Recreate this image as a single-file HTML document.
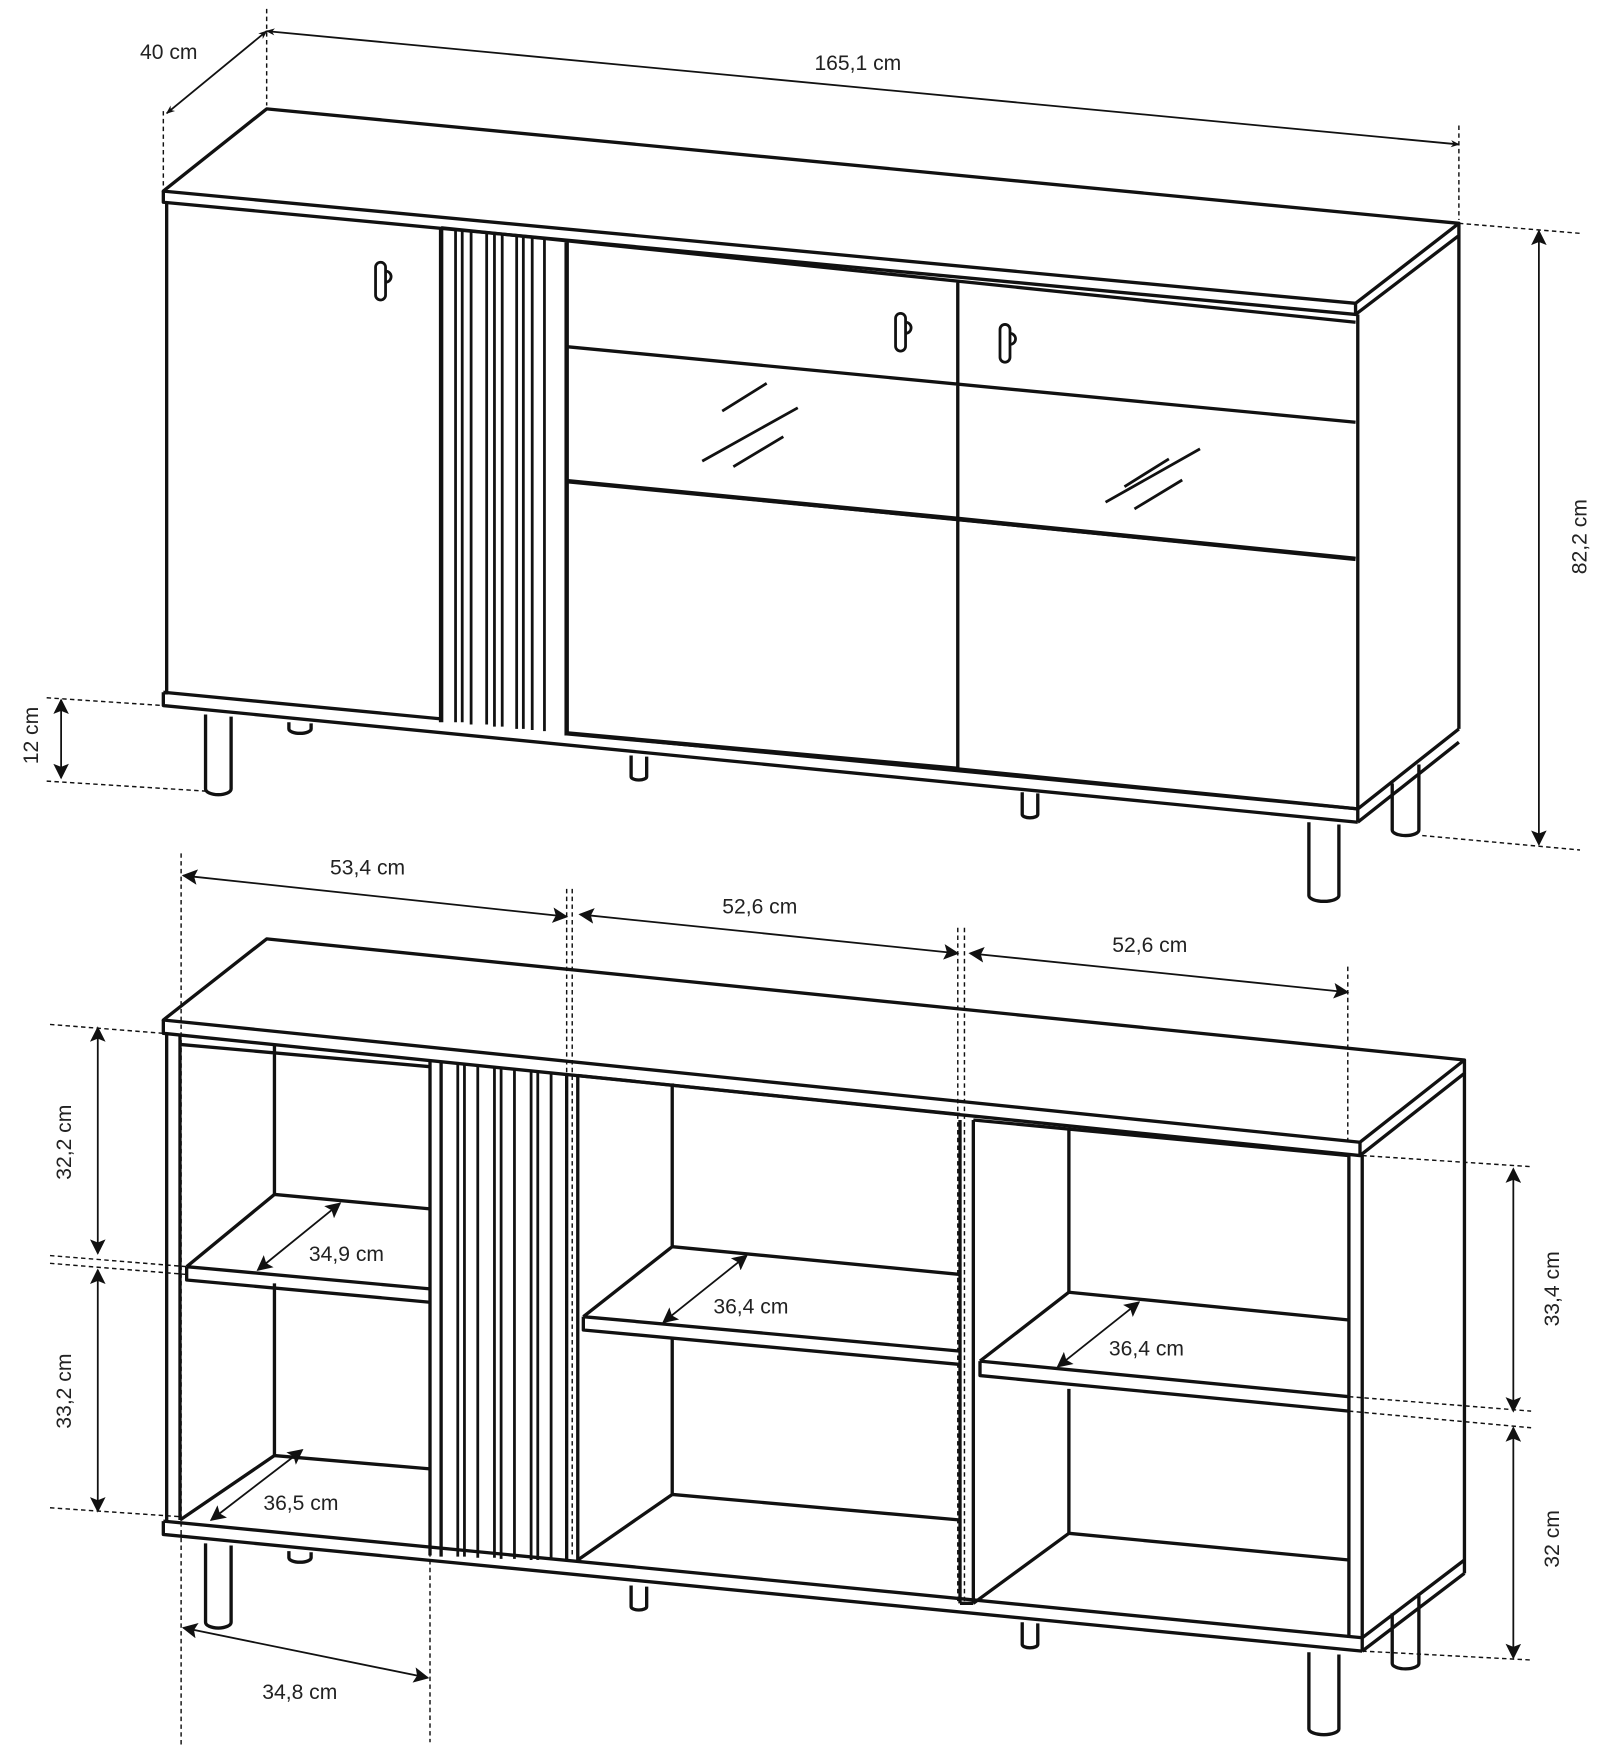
<!DOCTYPE html>
<html><head><meta charset="utf-8"><style>
html,body{margin:0;padding:0;background:#fff;}
svg{display:block;}
text{font-family:"Liberation Sans",Arial,sans-serif;font-size:19px;fill:#222;}
</style></head><body>
<svg width="1600" height="1750" viewBox="0 0 1440 1575" xmlns="http://www.w3.org/2000/svg">
<defs>
<marker id="a" viewBox="0 0 10 10" refX="9" refY="5" markerWidth="8" markerHeight="8" orient="auto-start-reverse" markerUnits="userSpaceOnUse"><path d="M0,1 L10,5 L0,9 L3,5 Z" fill="#111"/></marker>
<marker id="b" viewBox="0 0 10 10" refX="9" refY="5" markerWidth="18" markerHeight="14" orient="auto-start-reverse" markerUnits="userSpaceOnUse"><path d="M0,0 L10,5 L0,10 L2,5 Z" fill="#111"/></marker>
</defs>
<g fill="none" stroke="#111" stroke-width="3" stroke-linejoin="round">
<!-- TOP CABINET -->
<path d="M147,172 L240,98 L1313,201 L1220,273 Z" fill="#fff"/>
<path d="M147,172 L147,182 L1220,283 L1220,273 M1220,283 L1313,212 L1313,201"/>
<path d="M150,182 L150,625 M1222,283 L1222,740 M1313,212 L1313,656"/>
<path d="M1222,728 L1313,656 M1222,740 L1313,668"/>
<path d="M147,623 L147,635 L1222,740 M147,623 L397,647"/>
<path d="M510,660 L1222,728"/>
<path d="M397,205 L397,650 M510,218 L510,662" stroke-width="4"/>
<g stroke-width="2.5">
<path d="M410,207 V650 M416,208 V650 M424,209 V652 M438,210 V652 M445,211 V654 M452,212 V654 M465,213 V656 M471,214 V656 M479,214 V657 M490,215 V658"/>
</g>
<path d="M397,205 L1220,290 M862,252 L862,692 M510,312 L1220,380 M510,433 L1220,503" />
<path d="M510,433 L862,467" stroke-width="4"/>
<path d="M862,467 L1220,503" stroke-width="4"/>
<path d="M862,692 L1222,728"/>
<path d="M510,660 L862,692" stroke-width="4"/>
<g stroke-width="2.5">
<path d="M650,370 L690,345 M632,415 L718,367 M660,420 L705,393"/>
<path d="M1012,438 L1052,413 M995,452 L1080,404 M1021,458 L1064,432"/>
</g>
<g stroke-width="2.5">
<rect x="338" y="236" width="9" height="34" rx="4.5"/><path d="M347,244 a5,5 0 0 1 0,10"/>
<rect x="806" y="282" width="9" height="34" rx="4.5"/><path d="M815,290 a5,5 0 0 1 0,10"/>
<rect x="900" y="292" width="9" height="34" rx="4.5"/><path d="M909,300 a5,5 0 0 1 0,10"/>
</g>
<!-- legs top -->
<path d="M185,643 V710 a11,5 0 0 0 23,0 V645"/>
<path d="M260,650 V656 a10,4 0 0 0 20,0 V651"/>
<path d="M568,680 V699 a7,3 0 0 0 14,0 V681"/>
<path d="M920,713 V733 a7,3 0 0 0 14,0 V714"/>
<path d="M1178,740 V806 a13,5 0 0 0 27,0 V742"/>
<path d="M1253,705 V747 a12,5 0 0 0 24,0 V688"/>

<!-- BOTTOM CABINET -->
<path d="M147,918 L240,845 L1318,954 L1224,1028 Z" fill="#fff"/>
<path d="M147,918 L147,930 L1224,1040 L1224,1028 M1224,1040 L1318,966 L1318,954"/>
<path d="M150,930 V1368 M162,932 V1368 M1214,1040 V1474 M1226,1040 V1486 M1318,966 V1416"/>
<path d="M1226,1474 L1318,1404 M1226,1486 L1318,1416"/>
<path d="M147,1369 L147,1381 L1226,1486 M147,1369 L1226,1474"/>
<path d="M162,940 L387,960 M247,940 V1075 M247,1155 V1310"/>
<path d="M168,1140 L247,1075 L387,1088 M168,1140 V1152 L387,1172 M168,1140 L387,1160"/>
<path d="M162,1368 L247,1310 L387,1322"/>
<path d="M387,955 V1400 M397,956 V1401 M520,968 V1405 M510,967 V1404" stroke-width="3"/>
<g stroke-width="2.5">
<path d="M412,957 V1401 M418,958 V1401 M430,959 V1402 M445,960 V1402 M451,961 V1403 M463,962 V1403 M478,963 V1404 M484,964 V1404 M496,965 V1404"/>
</g>
<path d="M520,968 L864,1003 M605,975 V1122 M605,1205 V1345"/>
<path d="M525,1185 L605,1122 L864,1147 M525,1185 V1197 L864,1228 M525,1185 L864,1216"/>
<path d="M520,1404 L605,1345 L864,1368"/>
<path d="M864,1008 V1443 M876,1008 V1443 M864,1443 L876,1443"/>
<path d="M876,1008 L1214,1040 M962,1015 V1163 M962,1250 V1380"/>
<path d="M882,1225 L962,1163 L1214,1188 M882,1225 V1238 L1214,1270 M882,1225 L1214,1257"/>
<path d="M876,1443 L962,1380 L1214,1404"/>
<!-- legs bottom -->
<path d="M185,1389 V1460 a11,5 0 0 0 23,0 V1391"/>
<path d="M260,1396 V1402 a10,4 0 0 0 20,0 V1397"/>
<path d="M568,1427 V1446 a7,3 0 0 0 14,0 V1428"/>
<path d="M920,1460 V1480 a7,3 0 0 0 14,0 V1461"/>
<path d="M1178,1487 V1556 a13,5 0 0 0 27,0 V1489"/>
<path d="M1253,1452 V1497 a12,5 0 0 0 24,0 V1434"/>
</g>

<!-- DIMENSIONS -->
<g fill="none" stroke="#111" stroke-width="1.3" stroke-dasharray="4,3">
<path d="M147,100 V170 M240,8 V95 M1313,113 V198"/>
<path d="M1313,201 L1422,210 M1280,752 L1422,765"/>
<path d="M42,628 L147,635 M42,703 L185,712"/>
<path d="M163,768 V1570 M510,800 V1400 M515,800 V1400 M862,835 V1443 M868,835 V1443 M1213,870 V1030 M387,1390 V1568"/>
<path d="M45,922 L147,930 M45,1130 L168,1140 M45,1137 L168,1147 M45,1357 L162,1365"/>
<path d="M1226,1040 L1378,1050 M1214,1257 L1378,1270 M1214,1270 L1378,1285 M1226,1486 L1378,1494"/>
</g>
<g fill="none" stroke="#111" stroke-width="1.6">
<path d="M150,102 L240,28" marker-start="url(#a)" marker-end="url(#a)"/>
<path d="M240,28 L1313,130" marker-start="url(#a)" marker-end="url(#a)"/>
<path d="M1385,208 V760" marker-start="url(#b)" marker-end="url(#b)"/>
<path d="M55,630 V700" marker-start="url(#b)" marker-end="url(#b)"/>
<path d="M165,788 L510,825" marker-start="url(#b)" marker-end="url(#b)"/>
<path d="M522,823 L862,858" marker-start="url(#b)" marker-end="url(#b)"/>
<path d="M873,858 L1213,893" marker-start="url(#b)" marker-end="url(#b)"/>
<path d="M165,1465 L385,1510" marker-start="url(#b)" marker-end="url(#b)"/>
<path d="M88,925 V1128" marker-start="url(#b)" marker-end="url(#b)"/>
<path d="M88,1143 V1360" marker-start="url(#b)" marker-end="url(#b)"/>
<path d="M1362,1052 V1270" marker-start="url(#b)" marker-end="url(#b)"/>
<path d="M1362,1285 V1492" marker-start="url(#b)" marker-end="url(#b)"/>
<path d="M232,1143 L306,1083" marker-start="url(#b)" marker-end="url(#b)"/>
<path d="M190,1368 L272,1305" marker-start="url(#b)" marker-end="url(#b)"/>
<path d="M597,1190 L672,1130" marker-start="url(#b)" marker-end="url(#b)"/>
<path d="M952,1230 L1025,1172" marker-start="url(#b)" marker-end="url(#b)"/>
</g>
<text x="126" y="53">40 cm</text>
<text x="733" y="63">165,1 cm</text>
<text x="297" y="787">53,4 cm</text>
<text x="650" y="822">52,6 cm</text>
<text x="1001" y="857">52,6 cm</text>
<text x="236" y="1529">34,8 cm</text>
<text x="278" y="1135">34,9 cm</text>
<text x="237" y="1359">36,5 cm</text>
<text x="642" y="1182">36,4 cm</text>
<text x="998" y="1220">36,4 cm</text>
<text transform="translate(1428,483) rotate(-90)" text-anchor="middle">82,2 cm</text>
<text transform="translate(34,662) rotate(-90)" text-anchor="middle">12 cm</text>
<text transform="translate(64,1028) rotate(-90)" text-anchor="middle">32,2 cm</text>
<text transform="translate(64,1252) rotate(-90)" text-anchor="middle">33,2 cm</text>
<text transform="translate(1403,1160) rotate(-90)" text-anchor="middle">33,4 cm</text>
<text transform="translate(1403,1385) rotate(-90)" text-anchor="middle">32 cm</text>
</svg>
</body></html>
